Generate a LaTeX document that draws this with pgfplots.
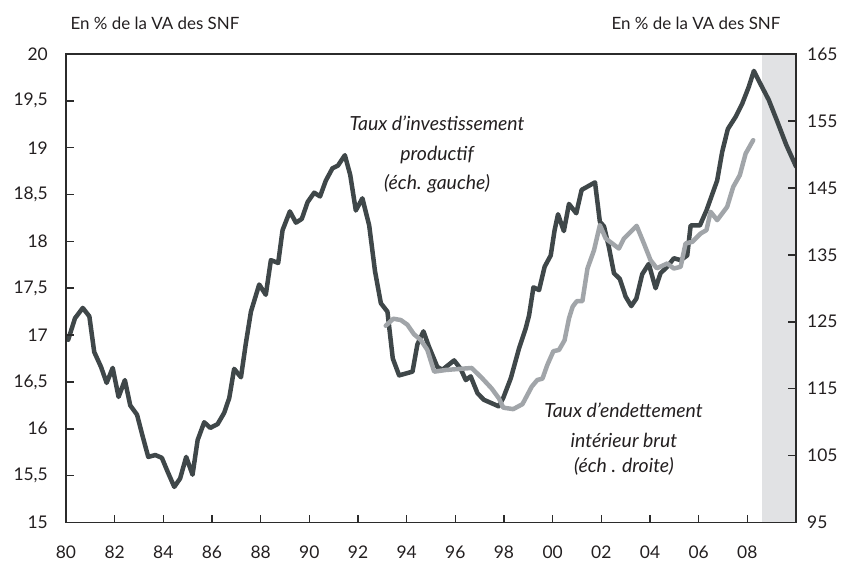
\documentclass[border=0pt]{standalone}
\usepackage{fontspec}
\setmainfont{Lato}
\usepackage{pgfplots}
\pgfplotsset{compat=1.18}
\definecolor{darkl}{HTML}{3F4749}
\definecolor{greyl}{HTML}{A1A5A9}
\definecolor{shadec}{HTML}{E1E2E4}
\definecolor{axc}{HTML}{2B2B2B}
\definecolor{txc}{HTML}{231F20}
\begin{document}
\begin{tikzpicture}
\pgfplotsset{
  myaxis/.style={
    at={(0,0)}, anchor=south west,
    scale only axis, width=730bp, height=468.5bp,
    xmin=1980, xmax=2010,
    clip mode=individual,
    axis line style={line width=1.8bp, color=axc},
    tick align=inside,
    major tick length=8bp,
    every tick/.style={line width=1.6bp, color=axc},
    tick label style={font=\fontsize{17.5}{17.5}\selectfont, text=txc, inner sep=0pt},
    /pgf/number format/assume math mode=true,
  }
}
\begin{axis}[myaxis,
  ymin=15, ymax=20,
  ytick={15,15.5,...,20},
  xtick={1980,1982,...,2008},
  xticklabels={80,82,84,86,88,90,92,94,96,98,00,02,04,06,08},
  xtick pos=left, ytick pos=left,
  yticklabel style={/pgf/number format/fixed, /pgf/number format/use comma, /pgf/number format/precision=1, anchor=east, xshift=-18bp},
  xticklabel style={anchor=north, yshift=-23bp},
  axis on top,
]
\addplot[fill=shadec, draw=none] coordinates {(2008.6,15) (2008.6,20) (2010,20) (2010,15)} -- cycle;
\addplot[darkl, line width=4.5bp, line join=round, line cap=round] coordinates {
(1980.09,16.95) (1980.37,17.18) (1980.69,17.29) (1980.96,17.20) (1981.16,16.82)
(1981.44,16.66) (1981.67,16.49) (1981.92,16.65) (1982.16,16.34) (1982.42,16.52)
(1982.64,16.25) (1982.92,16.15) (1983.15,15.92) (1983.38,15.70) (1983.67,15.72)
(1983.94,15.69) (1984.18,15.54) (1984.45,15.38) (1984.69,15.47) (1984.94,15.70)
(1985.20,15.51) (1985.41,15.88) (1985.68,16.07) (1985.93,16.01) (1986.23,16.05)
(1986.50,16.17) (1986.71,16.33) (1986.91,16.64) (1987.19,16.55) (1987.39,16.91)
(1987.60,17.25) (1987.94,17.54) (1988.21,17.43) (1988.42,17.80) (1988.72,17.77)
(1988.90,18.12) (1989.20,18.32) (1989.45,18.20) (1989.69,18.24) (1989.93,18.42)
(1990.20,18.52) (1990.44,18.48) (1990.68,18.65) (1990.95,18.78) (1991.18,18.81)
(1991.46,18.92) (1991.68,18.71) (1991.91,18.33) (1992.18,18.46) (1992.46,18.17)
(1992.70,17.68) (1992.94,17.34) (1993.21,17.25) (1993.43,16.75) (1993.69,16.57)
(1994.24,16.61) (1994.44,16.90) (1994.69,17.04) (1994.91,16.88) (1995.26,16.66)
(1995.47,16.63) (1995.95,16.73) (1996.22,16.64) (1996.43,16.52) (1996.63,16.56)
(1996.91,16.38) (1997.17,16.31) (1997.78,16.24) (1997.97,16.33) (1998.28,16.54)
(1998.62,16.86) (1998.89,17.07) (1999.03,17.21) (1999.21,17.51) (1999.44,17.48)
(1999.67,17.73) (1999.92,17.85) (2000.08,18.12) (2000.22,18.29) (2000.46,18.11)
(2000.67,18.40) (2000.97,18.30) (2001.19,18.55) (2001.74,18.63) (2001.94,18.21)
(2002.11,18.16) (2002.31,17.94) (2002.52,17.66) (2002.76,17.60) (2003.00,17.41)
(2003.23,17.31) (2003.44,17.39) (2003.68,17.65) (2003.95,17.76) (2004.23,17.50)
(2004.43,17.66) (2004.71,17.73) (2004.98,17.82) (2005.26,17.80) (2005.53,17.85)
(2005.67,18.17) (2006.05,18.17) (2006.32,18.33) (2006.76,18.65) (2006.97,18.96)
(2007.20,19.20) (2007.52,19.33) (2007.79,19.47) (2008.06,19.65) (2008.27,19.82)
(2008.54,19.68) (2008.88,19.51) (2009.23,19.28) (2009.60,19.03) (2010.00,18.80)
};
\node[font=\itshape\fontsize{19.5}{19.5}\selectfont, text=txc] at (axis cs:1995.25,19.26) {Taux d'investissement};
\node[font=\itshape\fontsize{19.5}{19.5}\selectfont, text=txc] at (axis cs:1995.25,18.92) {productif};
\node[font=\itshape\fontsize{19.5}{19.5}\selectfont, text=txc] at (axis cs:1995.25,18.61) {(éch. gauche)};
\node[font=\itshape\fontsize{19.5}{19.5}\selectfont, text=txc] at (axis cs:2002.91,16.20) {Taux d'endettement};
\node[font=\itshape\fontsize{19.5}{19.5}\selectfont, text=txc] at (axis cs:2002.93,15.88) {intérieur brut};
\node[font=\itshape\fontsize{19.5}{19.5}\selectfont, text=txc] at (axis cs:2002.93,15.60) {(éch . droite)};
\node[font=\fontsize{17}{17}\selectfont, text=txc, anchor=west] at (rel axis cs:0,1) [yshift=31bp, xshift=1bp] {En \% de la VA des SNF};
\node[font=\fontsize{17}{17}\selectfont, text=txc, anchor=east] at (rel axis cs:1,1) [yshift=31bp, xshift=-12bp] {En \% de la VA des SNF};
\end{axis}
\begin{axis}[myaxis,
  ymin=95, ymax=165,
  axis x line=none,
  axis y line*=right,
  ytick={95,105,...,165},
  yticklabel style={anchor=west, xshift=11bp},
]
\addplot[greyl, line width=4.5bp, line join=round, line cap=round] coordinates {
(1993.14,124.40) (1993.45,125.45) (1993.76,125.25) (1994.03,124.55) (1994.30,123.13)
(1994.58,122.27) (1994.85,120.78) (1995.13,117.54) (1995.61,117.79) (1996.14,117.94)
(1996.67,118.09) (1997.08,116.64) (1997.49,115.04) (1997.79,113.55) (1997.97,112.16)
(1998.38,111.94) (1998.76,112.69) (1999.14,115.30) (1999.37,116.30) (1999.58,116.49)
(1999.78,118.54) (2000.03,120.60) (2000.26,120.78) (2000.49,122.24) (2000.67,125.49)
(2000.82,127.24) (2000.99,128.06) (2001.22,128.06) (2001.43,132.95) (2001.70,135.70)
(2001.94,139.43) (2002.18,137.43) (2002.72,135.94) (2002.93,137.43) (2003.45,139.33)
(2003.75,136.69) (2004.02,134.21) (2004.28,132.98) (2004.71,133.70) (2004.98,132.95)
(2005.26,133.21) (2005.46,136.69) (2005.74,136.94) (2006.08,138.18) (2006.32,138.69)
(2006.49,141.42) (2006.76,140.18) (2007.17,142.16) (2007.42,145.15) (2007.69,146.89)
(2007.93,150.12) (2008.24,152.12)
};
\end{axis}
\path[use as bounding box] (-66bp,-40.5bp) rectangle (784bp,522.5bp);
\end{tikzpicture}
\end{document}
